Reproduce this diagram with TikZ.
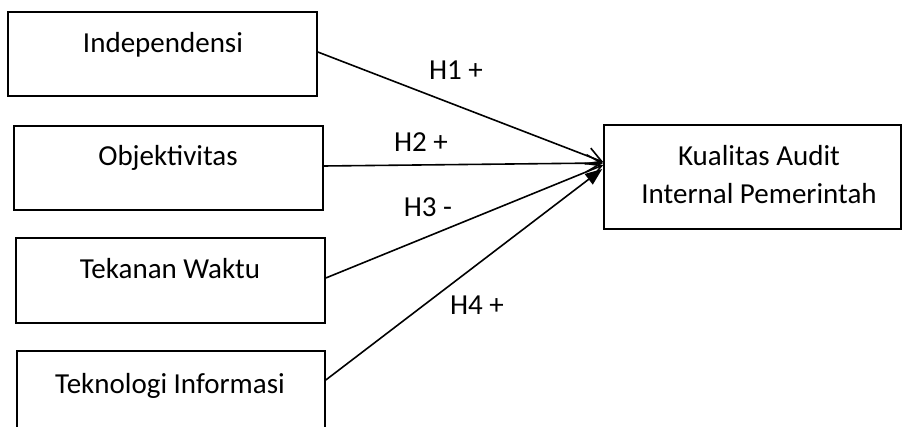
\documentclass[tikz,border=0pt]{standalone}
\usepackage{fontspec}
\setmainfont{Carlito}
\usetikzlibrary{arrows.meta}
\begin{document}
\begin{tikzpicture}[x=1pt,y=-1pt,
  box/.style={draw=black,line width=1.6pt,minimum width=309pt,inner sep=0pt},
  txt/.style={anchor=base,inner sep=0pt,font=\fontsize{29}{38}\selectfont},
  conn/.style={line width=1.6pt},
  openhead/.style={conn,-{Straight Barb[length=15pt,width=17pt,line width=1.6pt]}},
  fillhead/.style={conn,-{Triangle[length=17pt,width=13pt]}}]
\clip (0,0) rectangle (902,427);
\node[box,minimum height=84pt] (b1) at (162.5,54) {};
\node[box,minimum height=84pt] (b2) at (168.5,168) {};
\node[box,minimum height=85pt] (b3) at (170.5,280.5) {};
\node[box,minimum width=308pt,minimum height=86pt] (b4) at (171,394) {};
\node[box,minimum width=297pt,minimum height=104pt] (k) at (752.5,177) {};
\node[txt] (t1) at (163,53) {Independensi};
\node[txt] (t2) at (168,166) {Objektivitas};
\node[txt] (t3) at (170,279) {Tekanan Waktu};
\node[txt] (t4) at (170,393) {Teknologi Informasi};
\node[txt] (k1) at (759,166) {Kualitas Audit};
\node[txt] (k2) at (759,204) {Internal Pemerintah};
\coordinate (p1) at ([yshift=15pt]k.west);
\coordinate (p2) at ([yshift=14pt]k.west);
\coordinate (p3) at ([yshift=12pt]k.west);
\coordinate (p4) at ([yshift=8pt,xshift=-1pt]k.west);
\draw[openhead] ([yshift=2pt]b1.east) -- (p1);
\draw[openhead] ([yshift=2pt]b2.east) -- (p2);
\draw[openhead] ([yshift=2.5pt]b3.east) -- (p3);
\draw[fillhead] ([yshift=14pt]b4.east) -- (p4);
\node[txt] (h1) at (456,80) {H1 +};
\node[txt] (h2) at (421,152) {H2 +};
\node[txt] (h3) at (428,217) {H3 -};
\node[txt] (h4) at (477,315) {H4 +};
\end{tikzpicture}
\end{document}
